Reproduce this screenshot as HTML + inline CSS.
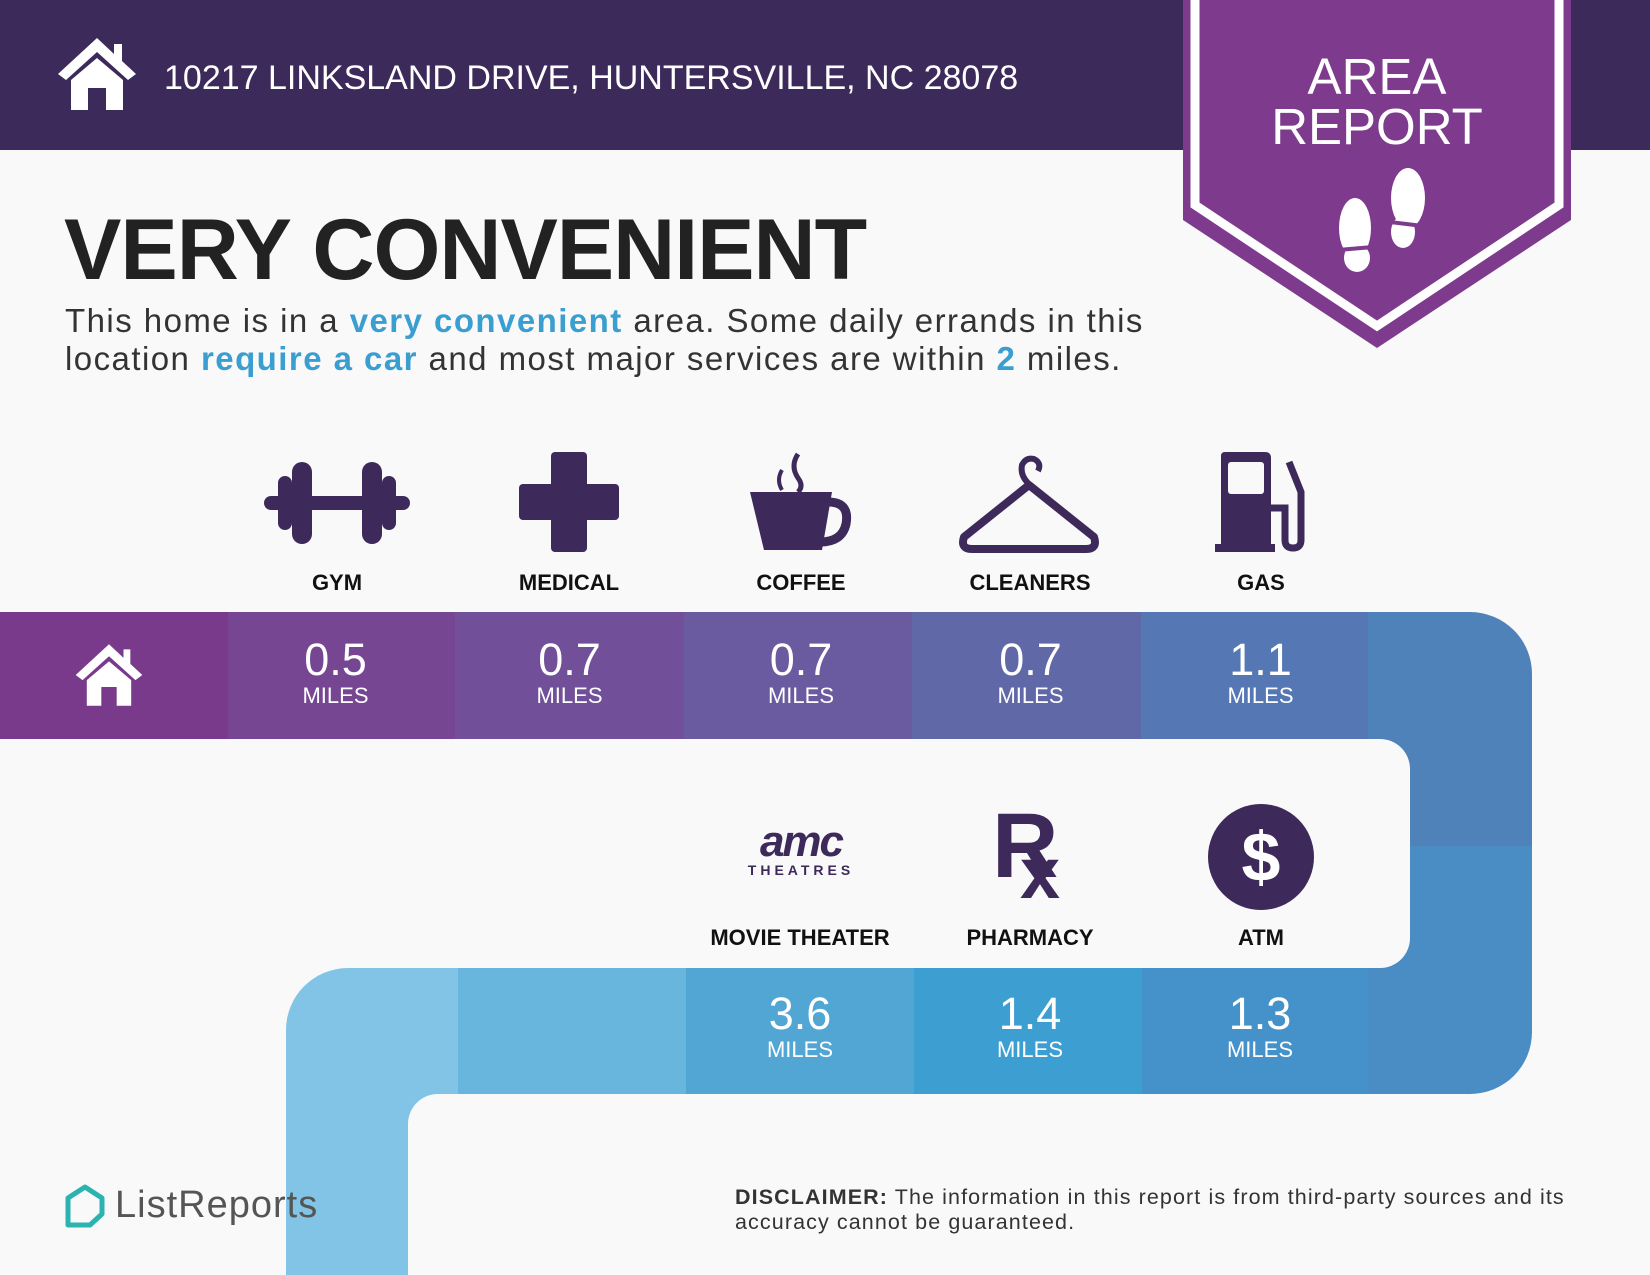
<!DOCTYPE html>
<html><head><meta charset="utf-8"><style>
*{margin:0;padding:0;box-sizing:border-box}
body{width:1650px;height:1275px;position:relative;overflow:hidden;background:#f9f9fa;font-family:"Liberation Sans",sans-serif}
.a{position:absolute}
.c{position:absolute;text-align:center;color:#fff}
.num{font-size:45px;line-height:48px}
.mi{font-size:22px;line-height:24px}
.lab{position:absolute;width:240px;text-align:center;font-weight:bold;font-size:22px;color:#111}
.ic{fill:#3d2a5b}
</style></head><body>
<div class="a" style="left:0;top:0;width:1650px;height:150px;background:#3c2a5b"></div>
<svg class="a" style="left:56px;top:36px" width="82" height="76" viewBox="0 0 82 76"><path d="M41 2 L2 38 L10 44 L41 16 L72 44 L80 38 L66 25 L66 8 L58 8 L58 18 Z" fill="#fff"/><path d="M15 44 L41 22 L67 44 L67 74 L50 74 L50 52 L32 52 L32 74 L15 74 Z" fill="#fff"/></svg>
<div class="a" style="left:164px;top:57px;font-size:34px;color:#fff;line-height:42px">10217 LINKSLAND DRIVE, HUNTERSVILLE, NC 28078</div>
<svg class="a" style="left:1183px;top:0" width="388" height="350" viewBox="0 0 388 350"><polygon points="0,0 388,0 388,220 194,348 0,220" fill="#7e3b8e"/><polyline points="12,0 12,205 194,326 376,205 376,0" fill="none" stroke="#fff" stroke-width="9"/>
<ellipse cx="172" cy="228" rx="16" ry="30" fill="#fff"/><ellipse cx="174" cy="258" rx="13" ry="14" fill="#fff"/><ellipse cx="225" cy="198" rx="17" ry="30" fill="#fff"/><ellipse cx="220" cy="232" rx="12" ry="16" fill="#fff"/>
<line x1="155" y1="250" x2="190" y2="247" stroke="#7e3b8e" stroke-width="4"/><line x1="207" y1="222" x2="240" y2="226" stroke="#7e3b8e" stroke-width="4"/></svg>
<div class="a" style="left:1183px;top:52px;width:388px;text-align:center;color:#fff;font-size:51px;line-height:50px">AREA<br>REPORT</div>

<div class="a" style="left:64px;top:205px;font-size:86px;font-weight:bold;color:#222;letter-spacing:-1px;line-height:90px">VERY CONVENIENT</div>
<div class="a" style="left:65px;top:302px;font-size:33px;color:#333;line-height:38px;letter-spacing:1.45px">This home is in a <b style="color:#3a9fd0">very convenient</b> area. Some daily errands in this<br>location <b style="color:#3a9fd0">require a car</b> and most major services are within <b style="color:#3a9fd0">2</b> miles.</div>

<!-- icons top -->
<svg class="a" style="left:264px;top:460px" width="146" height="86" viewBox="0 0 146 86"><rect x="0" y="36" width="146" height="14" rx="7" class="ic"/><rect x="14" y="16" width="14" height="54" rx="7" class="ic"/><rect x="28" y="2" width="20" height="82" rx="10" class="ic"/><rect x="98" y="2" width="20" height="82" rx="10" class="ic"/><rect x="118" y="16" width="14" height="54" rx="7" class="ic"/></svg>
<svg class="a" style="left:519px;top:452px" width="100" height="100" viewBox="0 0 100 100"><rect x="32" y="0" width="36" height="100" rx="4" class="ic"/><rect x="0" y="32" width="100" height="36" rx="4" class="ic"/></svg>
<svg class="a" style="left:750px;top:452px" width="102" height="100" viewBox="0 0 102 100"><path d="M0 40 L82 40 L72 98 L14 98 Z" class="ic"/><path d="M78 50 Q100 50 96 72 Q92 90 70 90" fill="none" stroke="#3d2a5b" stroke-width="9"/><path d="M48 2 Q40 14 48 26 Q54 34 48 40" fill="none" stroke="#3d2a5b" stroke-width="5"/><path d="M32 18 Q26 28 32 38" fill="none" stroke="#3d2a5b" stroke-width="4"/></svg>
<svg class="a" style="left:958px;top:455px" width="142" height="100" viewBox="0 0 142 100"><path d="M70 28 Q62 20 64 10 Q68 2 76 4 Q84 8 80 16" fill="none" stroke="#3d2a5b" stroke-width="6"/><path d="M71 30 L6 82 Q2 94 14 94 L128 94 Q140 94 136 82 Z" fill="none" stroke="#3d2a5b" stroke-width="8" stroke-linejoin="round"/></svg>
<svg class="a" style="left:1213px;top:452px" width="100" height="102" viewBox="0 0 100 102"><path d="M8 4 Q8 0 12 0 L52 0 Q58 0 58 6 L58 92 L62 92 L62 100 L2 100 L2 92 L8 92 Z" class="ic"/><rect x="15" y="10" width="36" height="32" rx="3" fill="#f9f9fa"/><path d="M58 56 L72 56 L72 88 Q72 96 80 96 Q88 96 88 88 L88 40 L76 10" fill="none" stroke="#3d2a5b" stroke-width="7"/></svg>
<div class="lab" style="left:217px;top:570px">GYM</div>
<div class="lab" style="left:449px;top:570px">MEDICAL</div>
<div class="lab" style="left:681px;top:570px">COFFEE</div>
<div class="lab" style="left:910px;top:570px">CLEANERS</div>
<div class="lab" style="left:1141px;top:570px">GAS</div>

<!-- right vertical -->
<div class="a" style="left:1300px;top:612px;width:232px;height:235px;background:#5082ba;border-top-right-radius:62px"></div>
<div class="a" style="left:1300px;top:846px;width:232px;height:248px;background:#4a8cc4;border-bottom-right-radius:62px"></div>
<!-- left vertical -->
<div class="a" style="left:286px;top:968px;width:200px;height:307px;background:#82c4e6;border-top-left-radius:62px"></div>
<!-- top band -->
<div class="a" style="left:0;top:612px;width:228px;height:127px;background:#7a3a8c"></div>
<div class="a" style="left:228px;top:612px;width:227px;height:127px;background:#774693"></div>
<div class="a" style="left:455px;top:612px;width:229px;height:127px;background:#714f99"></div>
<div class="a" style="left:684px;top:612px;width:228px;height:127px;background:#6a5aa0"></div>
<div class="a" style="left:912px;top:612px;width:229px;height:127px;background:#6168a8"></div>
<div class="a" style="left:1141px;top:612px;width:227px;height:127px;background:#5578b5"></div>
<!-- bottom band -->
<div class="a" style="left:458px;top:968px;width:228px;height:126px;background:#68b5dd"></div>
<div class="a" style="left:686px;top:968px;width:228px;height:126px;background:#52a6d4"></div>
<div class="a" style="left:914px;top:968px;width:228px;height:126px;background:#3d9ed2"></div>
<div class="a" style="left:1142px;top:968px;width:226px;height:126px;background:#4592cb"></div>
<!-- white cutouts -->
<div class="a" style="left:0;top:739px;width:1410px;height:229px;background:#f9f9fa;border-top-right-radius:30px;border-bottom-right-radius:30px"></div>
<div class="a" style="left:408px;top:1094px;width:1242px;height:181px;background:#f9f9fa;border-top-left-radius:30px"></div>

<svg class="a" style="left:74px;top:641px" width="70" height="68" viewBox="0 0 82 76"><path d="M41 2 L2 38 L10 44 L41 16 L72 44 L80 38 L66 25 L66 8 L58 8 L58 18 Z" fill="#fff"/><path d="M15 44 L41 22 L67 44 L67 74 L50 74 L50 52 L32 52 L32 74 L15 74 Z" fill="#fff"/></svg>
<div class="c" style="left:222px;top:636px;width:227px"><div class="num">0.5</div><div class="mi">MILES</div></div>
<div class="c" style="left:455px;top:636px;width:229px"><div class="num">0.7</div><div class="mi">MILES</div></div>
<div class="c" style="left:687px;top:636px;width:228px"><div class="num">0.7</div><div class="mi">MILES</div></div>
<div class="c" style="left:916px;top:636px;width:229px"><div class="num">0.7</div><div class="mi">MILES</div></div>
<div class="c" style="left:1147px;top:636px;width:227px"><div class="num">1.1</div><div class="mi">MILES</div></div>
<div class="c" style="left:686px;top:990px;width:228px"><div class="num">3.6</div><div class="mi">MILES</div></div>
<div class="c" style="left:916px;top:990px;width:228px"><div class="num">1.4</div><div class="mi">MILES</div></div>
<div class="c" style="left:1147px;top:990px;width:226px"><div class="num">1.3</div><div class="mi">MILES</div></div>

<!-- middle icons -->
<div class="a" style="left:736px;top:822px;width:130px;text-align:center;color:#3d2a5b;font-weight:bold;font-style:italic;font-size:44px;line-height:40px;letter-spacing:-2px">amc</div>
<div class="a" style="left:736px;top:862px;width:130px;text-align:center;color:#3d2a5b;font-weight:bold;font-size:14px;letter-spacing:4px">THEATRES</div>
<div class="a" style="left:992px;top:796px;color:#3d2a5b;font-weight:bold;font-size:92px;line-height:100px">R</div>
<div class="a" style="left:1020px;top:836px;color:#3d2a5b;font-weight:bold;font-size:72px;line-height:76px">x</div>
<div class="a" style="left:1208px;top:804px;width:106px;height:106px;border-radius:50%;background:#3d2a5b;color:#fff;font-weight:bold;font-size:70px;line-height:106px;text-align:center">$</div>
<div class="lab" style="left:680px;top:925px">MOVIE THEATER</div>
<div class="lab" style="left:910px;top:925px">PHARMACY</div>
<div class="lab" style="left:1141px;top:925px">ATM</div>

<svg class="a" style="left:64px;top:1184px" width="42" height="44" viewBox="0 0 42 44"><path d="M21 3 L38 14 L38 30 L26 41 L4 41 L4 14 Z" fill="none" stroke="#2bb3b1" stroke-width="5" stroke-linejoin="round"/></svg>
<div class="a" style="left:115px;top:1183px;font-size:38px;color:#555;line-height:44px;letter-spacing:1px">ListReports</div>
<div class="a" style="left:735px;top:1185px;font-size:21.5px;color:#333;line-height:25px;letter-spacing:1.1px"><b>DISCLAIMER:</b> The information in this report is from third-party sources and its<br>accuracy cannot be guaranteed.</div>
</body></html>
